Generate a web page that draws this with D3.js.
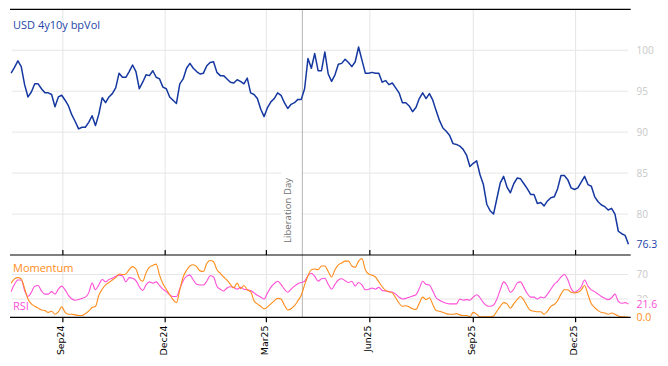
<!DOCTYPE html>
<html><head><meta charset="utf-8">
<script src="https://cdn.jsdelivr.net/npm/d3@7"></script>
<style>body{margin:0;background:#fff}svg{display:block}</style>
</head><body><svg id="c" width="668" height="366"></svg>
<script>
// ---- data ----
const startDate = "2024-07-17";
const stepDays = 3;
const volValues = [97.2,97.9,98.7,98.0,95.8,94.3,94.9,95.9,95.9,95.3,
94.8,94.8,94.6,93.1,94.3,94.5,93.9,93.2,92.1,91.3,
90.4,90.6,90.6,91.2,92.0,90.8,92.2,94.2,93.6,94.3,
94.7,95.4,97.2,96.7,96.7,97.4,98.2,97.4,95.3,96.1,
97.0,96.9,97.5,96.7,96.5,95.5,95.3,94.3,93.9,93.5,
95.9,96.5,97.8,98.4,97.8,97.4,97.1,97.2,98.1,98.5,
98.6,97.3,96.9,96.9,96.5,96.1,96.0,96.4,96.2,95.9,
96.6,94.8,94.6,94.1,92.8,91.9,93.0,93.7,94.1,94.8,
94.5,93.6,92.9,93.4,93.6,94.0,94.0,95.3,99.0,97.8,
99.6,97.5,97.5,99.8,97.1,96.2,97.0,98.3,98.4,98.9,
98.5,98.0,98.6,100.4,98.8,97.2,97.2,97.3,97.2,97.2,
96.1,96.3,95.8,96.0,95.4,94.8,93.6,93.6,93.2,92.5,
93.0,94.1,94.8,94.1,94.7,93.9,92.6,91.4,90.5,90.1,
89.6,88.6,88.5,88.3,87.9,87.2,85.8,86.2,86.5,84.8,
83.6,81.2,80.4,80.0,81.9,83.8,84.6,83.3,82.6,83.7,
84.4,84.3,83.7,83.1,82.4,82.4,81.3,81.4,81.0,81.6,
82.0,82.1,83.1,84.7,84.7,84.2,83.2,83.0,83.2,83.9,
84.6,83.6,83.4,82.1,81.5,81.1,80.9,80.5,80.7,80.0,
77.9,77.6,77.4,76.3];
const momentumValues = [56,63,65,63,47,30,22,18,15,12,
11,8,10,5,9,17,8,5,5,4,
3,3,6,10,16,18,36,46,53,57,
61,65,71,70,71,78,83,79,64,59,
73,82,85,87,69,55,46,37,29,24,
45,66,77,84,86,83,76,75,88,93,
91,78,72,66,61,54,48,56,47,52,
45,42,27,22,18,14,17,22,27,31,
30,20,12,14,19,27,36,53,68,78,
79,78,84,84,75,66,78,86,89,92,
92,84,82,92,96,78,71,69,66,58,
50,44,42,40,32,23,18,19,17,14,
13,23,33,29,32,21,11,10,8,6,
5,5,6,4,3,3,1,8,5,1,
1,1,1,2,10,18,24,22,15,22,
29,34,28,18,11,10,9,9,5,10,
18,21,27,38,45,45,41,40,41,45,
52,37,22,16,11,8,7,5,7,5,
2,1,1,0];
const rsiValues = [42,54,61,61,44,34,41,51,52,43,
38,38,42,38,46,51,45,36,30,28,
29,31,33,40,56,45,53,62,58,62,
64,67,69,68,58,65,64,60,50,44,
53,58,56,58,52,46,42,37,34,34,
47,60,67,69,61,54,53,53,59,68,
66,51,46,43,48,50,49,46,49,46,
45,44,40,36,33,30,40,49,55,59,
54,46,41,46,51,55,57,59,68,72,
67,59,63,64,54,46,54,61,63,60,
57,59,51,57,53,45,46,48,46,49,
44,43,42,41,38,33,30,31,33,35,
37,47,59,54,53,43,32,28,25,23,
22,22,22,30,28,29,28,33,37,32,
24,19,18,20,30,45,58,52,41,46,
56,58,49,39,33,33,30,33,32,38,
46,54,59,66,70,62,47,41,44,50,
61,51,45,42,38,34,31,29,32,38,
26,23,24,21.6];
const tickDates = ["2024-09-01","2024-12-01","2025-03-01","2025-06-01","2025-09-01","2025-12-01"];
const tickLabels = ["Sep24","Dec24","Mar25","Jun25","Sep25","Dec25"];
const volTicks = [80,85,90,95,100];
const oscTicks = [30,70];
const eventDate = "2025-04-02";
const eventLabel = "Liberation Day";
const seriesNames = ["USD 4y10y bpVol","Momentum","RSI"];

// ---- build ----
const parse = d3.utcParse("%Y-%m-%d");
const t0 = parse(startDate);
const dates = volValues.map((_, i) => d3.utcDay.offset(t0, i * stepDays));

const L = 10, R = 630.7, Lg = 12, Rg = 628;
const topY0 = 9.3, topY1 = 255, botY1 = 317.3;
const col = {vol:"#1437a0", volText:"#2445a8", mom:"#ff8c1a", rsi:"#ff4fd8", grid:"#e6e6e6", lab:"#c8c8c8"};

const x = d3.scaleUtc().domain([parse("2024-07-16"), parse("2026-01-19")]).range([L, R]);
const yV = d3.scaleLinear().domain([75, 105]).range([topY1, topY0]);
const yO = d3.scaleLinear().domain([0, 102]).range([botY1, topY1]);

const svg = d3.select("#c");
const font = "'Open Sans', sans-serif";

// grid
const g = svg.append("g");
g.selectAll(".hv").data(volTicks).join("line")
  .attr("x1", Lg).attr("x2", Rg).attr("y1", d => yV(d)).attr("y2", d => yV(d))
  .attr("stroke", col.grid).attr("stroke-width", 1);
g.selectAll(".ho").data(oscTicks).join("line")
  .attr("x1", Lg).attr("x2", Rg).attr("y1", d => yO(d)).attr("y2", d => yO(d))
  .attr("stroke", col.grid).attr("stroke-width", 1);
const tDates = tickDates.map(parse);
g.selectAll(".vg").data(tDates).join("line")
  .attr("x1", d => x(d)).attr("x2", d => x(d)).attr("y1", topY0).attr("y2", botY1)
  .attr("stroke", col.grid).attr("stroke-width", 1);

// event label background + line
const ex = x(parse(eventDate));
svg.append("rect").attr("x", ex - 21).attr("y", 171).attr("width", 20.5).attr("height", 78).attr("fill", "#fff");
svg.append("line").attr("x1", ex).attr("x2", ex).attr("y1", topY0).attr("y2", botY1)
  .attr("stroke", "#b4b4b4").attr("stroke-width", 1);
svg.append("text").attr("transform", `translate(${ex - 11},243) rotate(-90)`)
  .attr("font-family", font).attr("font-size", 9.6).attr("fill", "#707070").text(eventLabel);

// series
const lineV = d3.line().x((d, i) => x(dates[i])).y(d => yV(d));
svg.append("path").datum(volValues).attr("d", lineV)
  .attr("fill", "none").attr("stroke", col.vol).attr("stroke-width", 1.5).attr("stroke-linejoin", "round");
const lineO = d3.line().x((d, i) => x(dates[i])).y(d => yO(d)).curve(d3.curveMonotoneX);
svg.append("path").datum(rsiValues).attr("d", lineO)
  .attr("fill", "none").attr("stroke", col.rsi).attr("stroke-width", 1.1);
svg.append("path").datum(momentumValues).attr("d", lineO)
  .attr("fill", "none").attr("stroke", col.mom).attr("stroke-width", 1.1);

// frame lines
[topY0, topY1, botY1].forEach(y => {
  svg.append("line").attr("x1", L).attr("x2", R).attr("y1", y).attr("y2", y)
    .attr("stroke", "#000").attr("stroke-width", 1.2);
});
// ticks
svg.selectAll(".tk1").data(tDates).join("line")
  .attr("x1", d => x(d)).attr("x2", d => x(d)).attr("y1", topY1 - 5).attr("y2", topY1)
  .attr("stroke", "#000").attr("stroke-width", 1.2);
svg.selectAll(".tk2").data(tDates).join("line")
  .attr("x1", d => x(d)).attr("x2", d => x(d)).attr("y1", botY1).attr("y2", botY1 + 5)
  .attr("stroke", "#000").attr("stroke-width", 1.2);
svg.selectAll(".tl").data(tDates).join("text")
  .attr("transform", d => `translate(${x(d) + 1.5},325.5) rotate(-90)`)
  .attr("text-anchor", "end").attr("font-family", "'DejaVu Sans', sans-serif")
  .attr("font-size", 9.4).attr("fill", "#000").text((d, i) => tickLabels[i]);

// right labels
const rx = 636.5;
svg.selectAll(".rv").data(volTicks).join("text")
  .attr("x", rx).attr("y", d => yV(d)).attr("dy", "0.36em")
  .attr("font-family", font).attr("font-size", 10).attr("fill", col.lab).text(d => d);
svg.selectAll(".ro").data(oscTicks).join("text")
  .attr("x", rx).attr("y", d => yO(d)).attr("dy", "0.36em")
  .attr("font-family", font).attr("font-size", 10).attr("fill", col.lab).text(d => d);
const lastV = volValues[volValues.length - 1];
const lastM = momentumValues[momentumValues.length - 1];
const lastR = rsiValues[rsiValues.length - 1];
svg.append("rect").attr("x", rx - 1).attr("y", yO(lastR) - 6).attr("width", 24).attr("height", 12).attr("fill", "#fff");
svg.append("text").attr("x", rx).attr("y", yV(lastV)).attr("dy", "0.36em")
  .attr("font-family", font).attr("font-size", 10.5).attr("fill", col.volText).text(lastV.toFixed(1));
svg.append("text").attr("x", rx).attr("y", yO(lastR)).attr("dy", "0.36em")
  .attr("font-family", font).attr("font-size", 10.5).attr("fill", col.rsi).text(lastR.toFixed(1));
svg.append("text").attr("x", rx).attr("y", yO(lastM)).attr("dy", "0.36em")
  .attr("font-family", font).attr("font-size", 10.5).attr("fill", col.mom).text(lastM.toFixed(1));

// series names
svg.append("text").attr("x", 13).attr("y", 28.5).attr("font-family", font).attr("font-size", 11)
  .attr("fill", col.volText).text(seriesNames[0]);
svg.append("text").attr("x", 13).attr("y", 271.5).attr("font-family", font).attr("font-size", 11)
  .attr("fill", col.mom).text(seriesNames[1]);
svg.append("text").attr("x", 13).attr("y", 310).attr("font-family", font).attr("font-size", 11)
  .attr("fill", col.rsi).text(seriesNames[2]);
</script></body></html>
